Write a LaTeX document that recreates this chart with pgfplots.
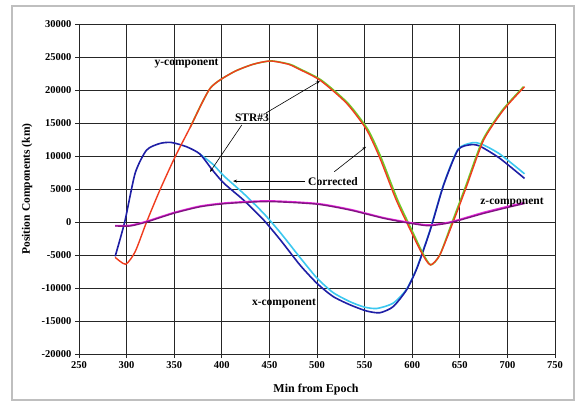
\documentclass[border=0pt]{standalone}
\usepackage{fontspec}
\setmainfont{Liberation Serif}
\usepackage{pgfplots}
\pgfplotsset{compat=1.18}
\usetikzlibrary{arrows.meta}
\definecolor{xblue}{RGB}{30,30,165}
\definecolor{xcyan}{RGB}{60,200,240}
\definecolor{yred}{RGB}{240,60,30}
\definecolor{ygreen}{RGB}{110,205,40}
\definecolor{zpurple}{RGB}{130,20,130}
\definecolor{zmag}{RGB}{230,40,220}
\begin{document}
\begin{tikzpicture}[x=1pt,y=1pt]
\useasboundingbox (0,0) rectangle (576,402);
\fill[white] (0,0) rectangle (576,402);
\draw[black!25, line width=1.5pt] (12,2) rectangle (574,396);
\begin{axis}[at={(79pt,48pt)}, anchor=south west, scale only axis,
  width=476pt, height=330pt,
  xmin=250, xmax=750, ymin=-20000, ymax=30000,
  xtick={250,300,...,750}, ytick={-20000,-15000,...,30000},
  grid=major, major grid style={black!85, line width=0.75pt},
  axis line style={black!85, line width=0.8pt},
  tick style={black!85, line width=0.8pt},
  tick align=outside, major tick length=4pt,
  xtick pos=bottom, ytick pos=left,
  scaled y ticks=false,
  /pgf/number format/1000 sep={},
  /pgf/number format/assume math mode=true,
  ticklabel style={font=\fontsize{10.5}{12}\selectfont\bfseries},
  every axis plot/.append style={smooth, tension=0.4},
  clip=false]
% x-component
\addplot[xcyan, line width=1.6pt] coordinates {
(377,10300)(391,8700)(402,7000)(423,4300)(444,1300)(462,-1700)(482,-5350)(500,-8500)(517,-10700)(535,-12100)(550,-12900)(563,-13100)(580,-12300)(594,-10200)(605,-6900)(619,-1100)(633,5700)(648,11000)(663,12000)(673,11800)(692,10300)(718,7300)};
\addplot[xblue, line width=1.6pt] coordinates {
(288,-5200)(298,0)(309,7400)(321,10900)(335,11900)(347,12050)(363,11400)(377,10300)(390,7900)(402,5900)(423,3300)(444,300)(462,-2800)(482,-6500)(500,-9300)(517,-11300)(535,-12570)(552,-13480)(566,-13750)(580,-12830)(594,-10300)(605,-7000)(619,-1200)(633,5600)(648,10900)(661,11700)(671,11500)(692,9650)(718,6600)};
% y-component
\addplot[ygreen, line width=1.6pt] coordinates {
(367,14400)(388,20300)(412,22700)(433,23900)(452,24400)(471.5,23900)(480.5,23300)(504.5,21500)(532.5,18000)(553.5,14000)(567.5,9700)(584.5,3400)(599.5,-1200)(611,-4700)(619.5,-6500)(629,-5000)(642,0)(656,5350)(674,12400)(695,17000)(717,20500)};
\addplot[yred, line width=1.4pt] coordinates {
(288,-5350)(299,-6400)(309,-4500)(321,0)(335,4850)(351,9900)(367,14400)(388,20300)(412,22700)(433,23900)(451,24400)(470,23900)(479,23300)(503,21500)(531,18000)(552,14000)(566,9700)(583,3400)(598,-1200)(610,-4700)(619,-6500)(629,-5000)(643,0)(657,5350)(675,12400)(696,17000)(718,20500)};
% z-component
\addplot[zmag, line width=1.6pt] coordinates {
(288,-550)(304,-500)(321,100)(349,1400)(377,2400)(405,2900)(449,3200)(500,2800)(535,1900)(570,650)(594,0)(615,-450)(628,-300)(643,100)(675,1450)(703,2450)(718,2950)};
\addplot[zpurple, line width=1.4pt] coordinates {
(288,-600)(304,-600)(321,0)(349,1300)(377,2300)(405,2800)(449,3100)(500,2700)(535,1800)(570,560)(594,-100)(615,-550)(628,-400)(643,0)(675,1300)(703,2300)(718,2800)};
% annotations
\node[font=\fontsize{11.5}{13}\selectfont\bfseries] at (axis cs:363,24090) {y-component};
\node[font=\fontsize{11.5}{13}\selectfont\bfseries] at (axis cs:431.7,15760) {STR\#3};
\node[font=\fontsize{11.5}{13}\selectfont\bfseries] at (axis cs:516.8,6060) {Corrected};
\node[font=\fontsize{11.5}{13}\selectfont\bfseries] at (axis cs:465.3,-12420) {x-component};
\node[font=\fontsize{11.5}{13}\selectfont\bfseries] at (axis cs:704.8,3030) {z-component};
\draw[black, line width=0.6pt, -{Stealth[length=4pt,width=3pt]}] (axis cs:446.4,16520) -- (axis cs:503,21360);
\draw[black, line width=0.6pt, -{Stealth[length=4pt,width=3pt]}] (axis cs:421,14700) -- (axis cs:387.6,7580);
\draw[black, line width=0.6pt, -{Stealth[length=4pt,width=3pt]}] (axis cs:487.5,6200) -- (axis cs:411.8,6200);
\draw[black, line width=0.6pt, -{Stealth[length=4pt,width=3pt]}] (axis cs:518.2,7620) -- (axis cs:551.5,11400);
\end{axis}
\node[rotate=90, font=\fontsize{11.5}{13}\selectfont\bfseries] at (27,213) {Position Components (km)};
\node[font=\fontsize{12}{14}\selectfont\bfseries] at (316,12) {Min from Epoch};
\end{tikzpicture}
\end{document}
